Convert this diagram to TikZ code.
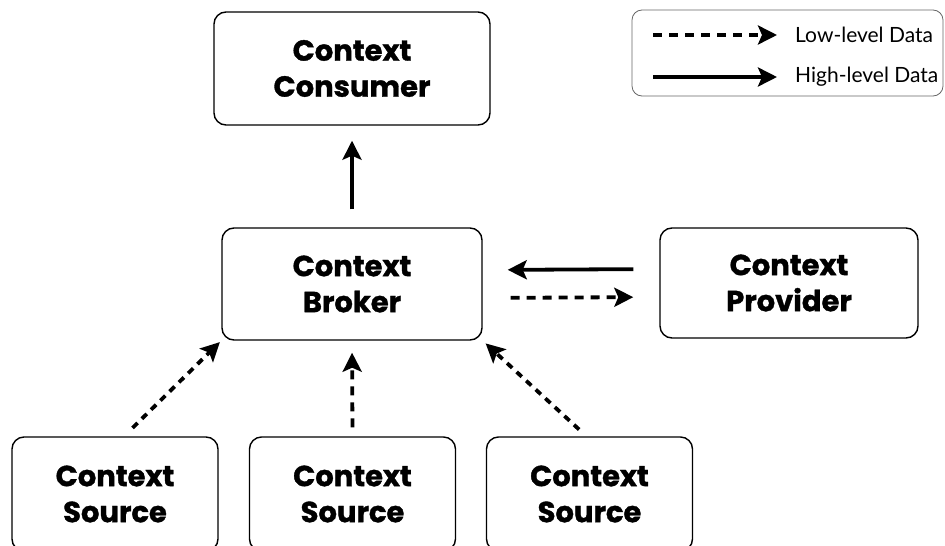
\documentclass[tikz,border=0pt]{standalone}
\usepackage{fontspec}
\setmainfont{Lato}
\newfontfamily\boxfont{Poppins}[BoldFeatures={FakeBold=1.2}]
\usetikzlibrary{positioning, calc, arrows.meta}

\begin{document}
\begin{tikzpicture}[x=1pt, y=-1pt,
    box/.style={draw, line width=1.4pt, rounded corners=12pt, align=center,
      inner sep=0pt, font=\boxfont\bfseries\fontsize{29}{36}\selectfont},
    high/.style={line width=3.8pt, -{Stealth[length=19pt,width=19pt,inset=4pt]}},
    low/.style={high, dash pattern=on 9pt off 7pt}]
  \useasboundingbox (0,0) rectangle (945,546);
  \clip (0,0) rectangle (945,546);
  % boxes
  \node[box, minimum width=276pt, minimum height=113pt] (consumer) at (352,68.5) {Context\\Consumer};
  \node[box, minimum width=260pt, minimum height=112pt] (broker) at (352,284) {Context\\Broker};
  \node[box, minimum width=258pt, minimum height=110pt] (provider) at (789,283) {Context\\Provider};
  \node[box, minimum width=206pt, minimum height=114pt] (srcA) at (115,494) {Context\\Source};
  \node[box, minimum width=206pt, minimum height=114pt] (srcB) at (352.5,494) {Context\\Source};
  \node[box, minimum width=206pt, minimum height=114pt] (srcC) at (589.5,494) {Context\\Source};
  % data flow
  \draw[high, shorten <=18pt, shorten >=15pt] (broker.north) -- (consumer.south);
  \draw[high, shorten <=26pt, shorten >=25pt] ([yshift=14pt]provider.west) -- ([yshift=14pt]broker.east);
  \draw[low, shorten <=28pt, shorten >=26pt] ([yshift=-14pt]broker.east) -- ([yshift=-14pt]provider.west);
  \draw[low, dash pattern=on 7pt off 6pt, shorten <=12pt, shorten >=2pt] ([xshift=9pt]srcA.north) -- (broker.south west);
  \draw[low, shorten <=9pt, shorten >=12pt] (srcB.north) -- (broker.south);
  \draw[low, dash pattern=on 7pt off 6pt, shorten <=10pt, shorten >=4pt] ([xshift=-3pt]srcC.north) -- (broker.south east);
  % legend
  \node[draw=black!60, line width=0.8pt, rounded corners=10pt, minimum width=311pt, minimum height=86pt] (legend) at (787.5,53) {};
  \coordinate (lowA) at (653,35);
  \coordinate (lowB) at (777,35);
  \coordinate (highA) at (653,77);
  \coordinate (highB) at (777,77);
  \draw[low] (lowA) -- (lowB);
  \draw[high] (highA) -- (highB);
  \node[anchor=west, font=\fontsize{21}{24}\selectfont, inner sep=0pt] (lowtxt) at (795,35) {Low-level Data};
  \node[anchor=west, font=\fontsize{21}{24}\selectfont, inner sep=0pt] (hightxt) at (795,77) {High-level Data};
\end{tikzpicture}
\end{document}
